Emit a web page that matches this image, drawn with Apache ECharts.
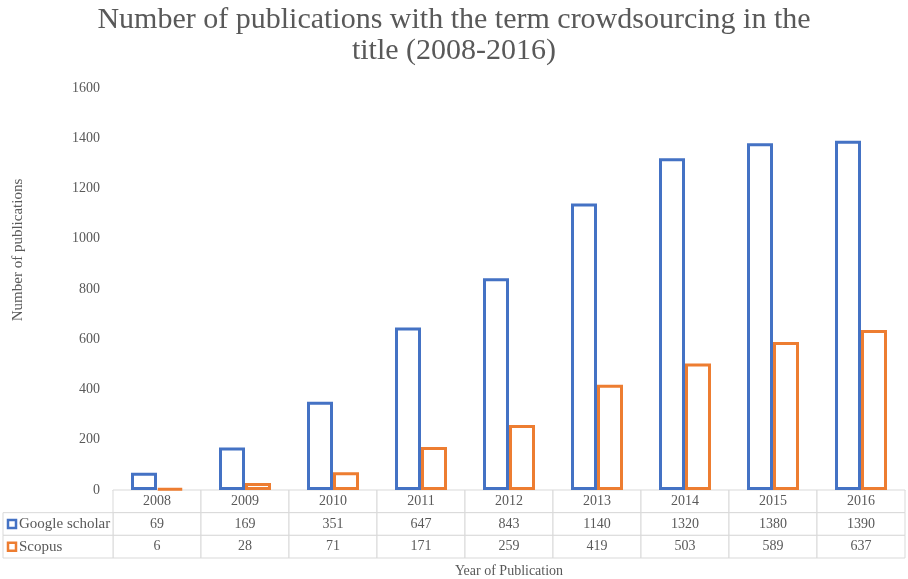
<!DOCTYPE html>
<html><head><meta charset="utf-8">
<script src="https://cdn.jsdelivr.net/npm/echarts@6/dist/echarts.min.js"></script>
<style>html,body{margin:0;padding:0;background:#fff}#c{width:908px;height:579px}</style>
</head><body><div id="c"></div>
<script>
const years = ['2008','2009','2010','2011','2012','2013','2014','2015','2016'];
const googleScholar = [69,169,351,647,843,1140,1320,1380,1390];
const scopus = [6,28,71,171,259,419,503,589,637];
const seriesNames = ['Google scholar','Scopus'];
const yTicks = {min:0, max:1600, interval:200};

const BLUE = '#4472C4', ORANGE = '#ED7D31', TXT = '#595959', LINE = '#d9d9d9';
const FONT = '"Liberation Serif","Times New Roman",serif';

const tableData = [];
years.forEach((y,i)=>{
  tableData.push([i,0,y]);
  tableData.push([i,1,String(googleScholar[i])]);
  tableData.push([i,2,String(scopus[i])]);
});
const legendData = [[0,1,seriesNames[0],BLUE],[0,2,seriesNames[1],ORANGE]];

function cellRender(params, api){
  const c = api.coord([api.value(0), api.value(1)]);
  const s = api.size([1,1]);
  return {type:'group', children:[
    {type:'rect', shape:{x:c[0]-s[0]/2, y:c[1]-s[1]/2, width:s[0], height:s[1]},
     style:{fill:'#fff', stroke:LINE, lineWidth:1}},
    {type:'text', style:{x:c[0], y:c[1], text:tableData[params.dataIndex][2], align:'center', verticalAlign:'middle',
      fill:TXT, font:'14px '+FONT}}
  ]};
}
function legendRender(params, api){
  const c = api.coord([api.value(0), api.value(1)]);
  const s = api.size([1,1]);
  const d = legendData[params.dataIndex];
  const x0 = c[0]-s[0]/2;
  return {type:'group', children:[
    {type:'rect', shape:{x:x0, y:c[1]-s[1]/2, width:s[0], height:s[1]},
     style:{fill:'#fff', stroke:LINE, lineWidth:1}},
    {type:'rect', shape:{x:x0+5, y:c[1]-4, width:8, height:8},
     style:{fill:'#fff', stroke:d[3], lineWidth:2.5}},
    {type:'text', style:{x:x0+16, y:c[1], text:d[2], align:'left', verticalAlign:'middle',
      fill:TXT, font:'15px '+FONT}}
  ]};
}

const chart = echarts.init(document.getElementById('c'));
chart.setOption({
  animation:false,
  backgroundColor:'#fff',
  title:{text:'Number of publications with the term crowdsourcing in the\ntitle (2008-2016)',
    left:'center', top:0,
    textStyle:{fontFamily:FONT, fontSize:30, fontWeight:'normal', color:TXT, lineHeight:31}},
  graphic:[
    {type:'text', x:18, y:250, rotation:Math.PI/2,
     style:{text:'Number of publications', align:'center', verticalAlign:'middle',
       fill:TXT, font:'15px '+FONT}}
  ],
  grid:[
    {left:113, right:3, top:88, bottom:89, outerBoundsMode:'none', containLabel:false},
    {left:113, right:3, top:490, height:68, outerBoundsMode:'none', containLabel:false},
    {left:3, width:110, top:490, height:68, outerBoundsMode:'none', containLabel:false}
  ],
  xAxis:[
    {type:'category', data:years, gridIndex:0, axisLine:{show:true, lineStyle:{color:LINE}},
     axisTick:{show:false}, axisLabel:{show:false},
     name:'Year of Publication', nameLocation:'middle', nameGap:74,
     nameTextStyle:{fontFamily:FONT, fontSize:14, color:TXT}},
    {type:'category', data:years, gridIndex:1, show:false},
    {type:'category', data:[''], gridIndex:2, show:false}
  ],
  yAxis:[
    {type:'value', gridIndex:0, min:yTicks.min, max:yTicks.max, interval:yTicks.interval,
     splitLine:{show:false}, axisLine:{show:false}, axisTick:{show:false},
     axisLabel:{fontFamily:FONT, fontSize:14, color:TXT, margin:13, formatter:v=>String(v)}},
    {type:'category', data:['h','g','s'], inverse:true, gridIndex:1, show:false},
    {type:'category', data:['h','g','s'], inverse:true, gridIndex:2, show:false}
  ],
  series:[
    {type:'bar', name:seriesNames[0], data:googleScholar, barWidth:26, barGap:'0%',
     itemStyle:{color:'#fff', borderColor:BLUE, borderWidth:3}},
    {type:'bar', name:seriesNames[1], data:scopus, barWidth:26,
     itemStyle:{color:'#fff', borderColor:ORANGE, borderWidth:3}},
    {type:'custom', xAxisIndex:1, yAxisIndex:1, data:tableData.map(d=>[d[0],d[1]]), renderItem:cellRender},
    {type:'custom', xAxisIndex:2, yAxisIndex:2, data:legendData.map(d=>[d[0],d[1]]), renderItem:legendRender}
  ]
});
</script></body></html>
